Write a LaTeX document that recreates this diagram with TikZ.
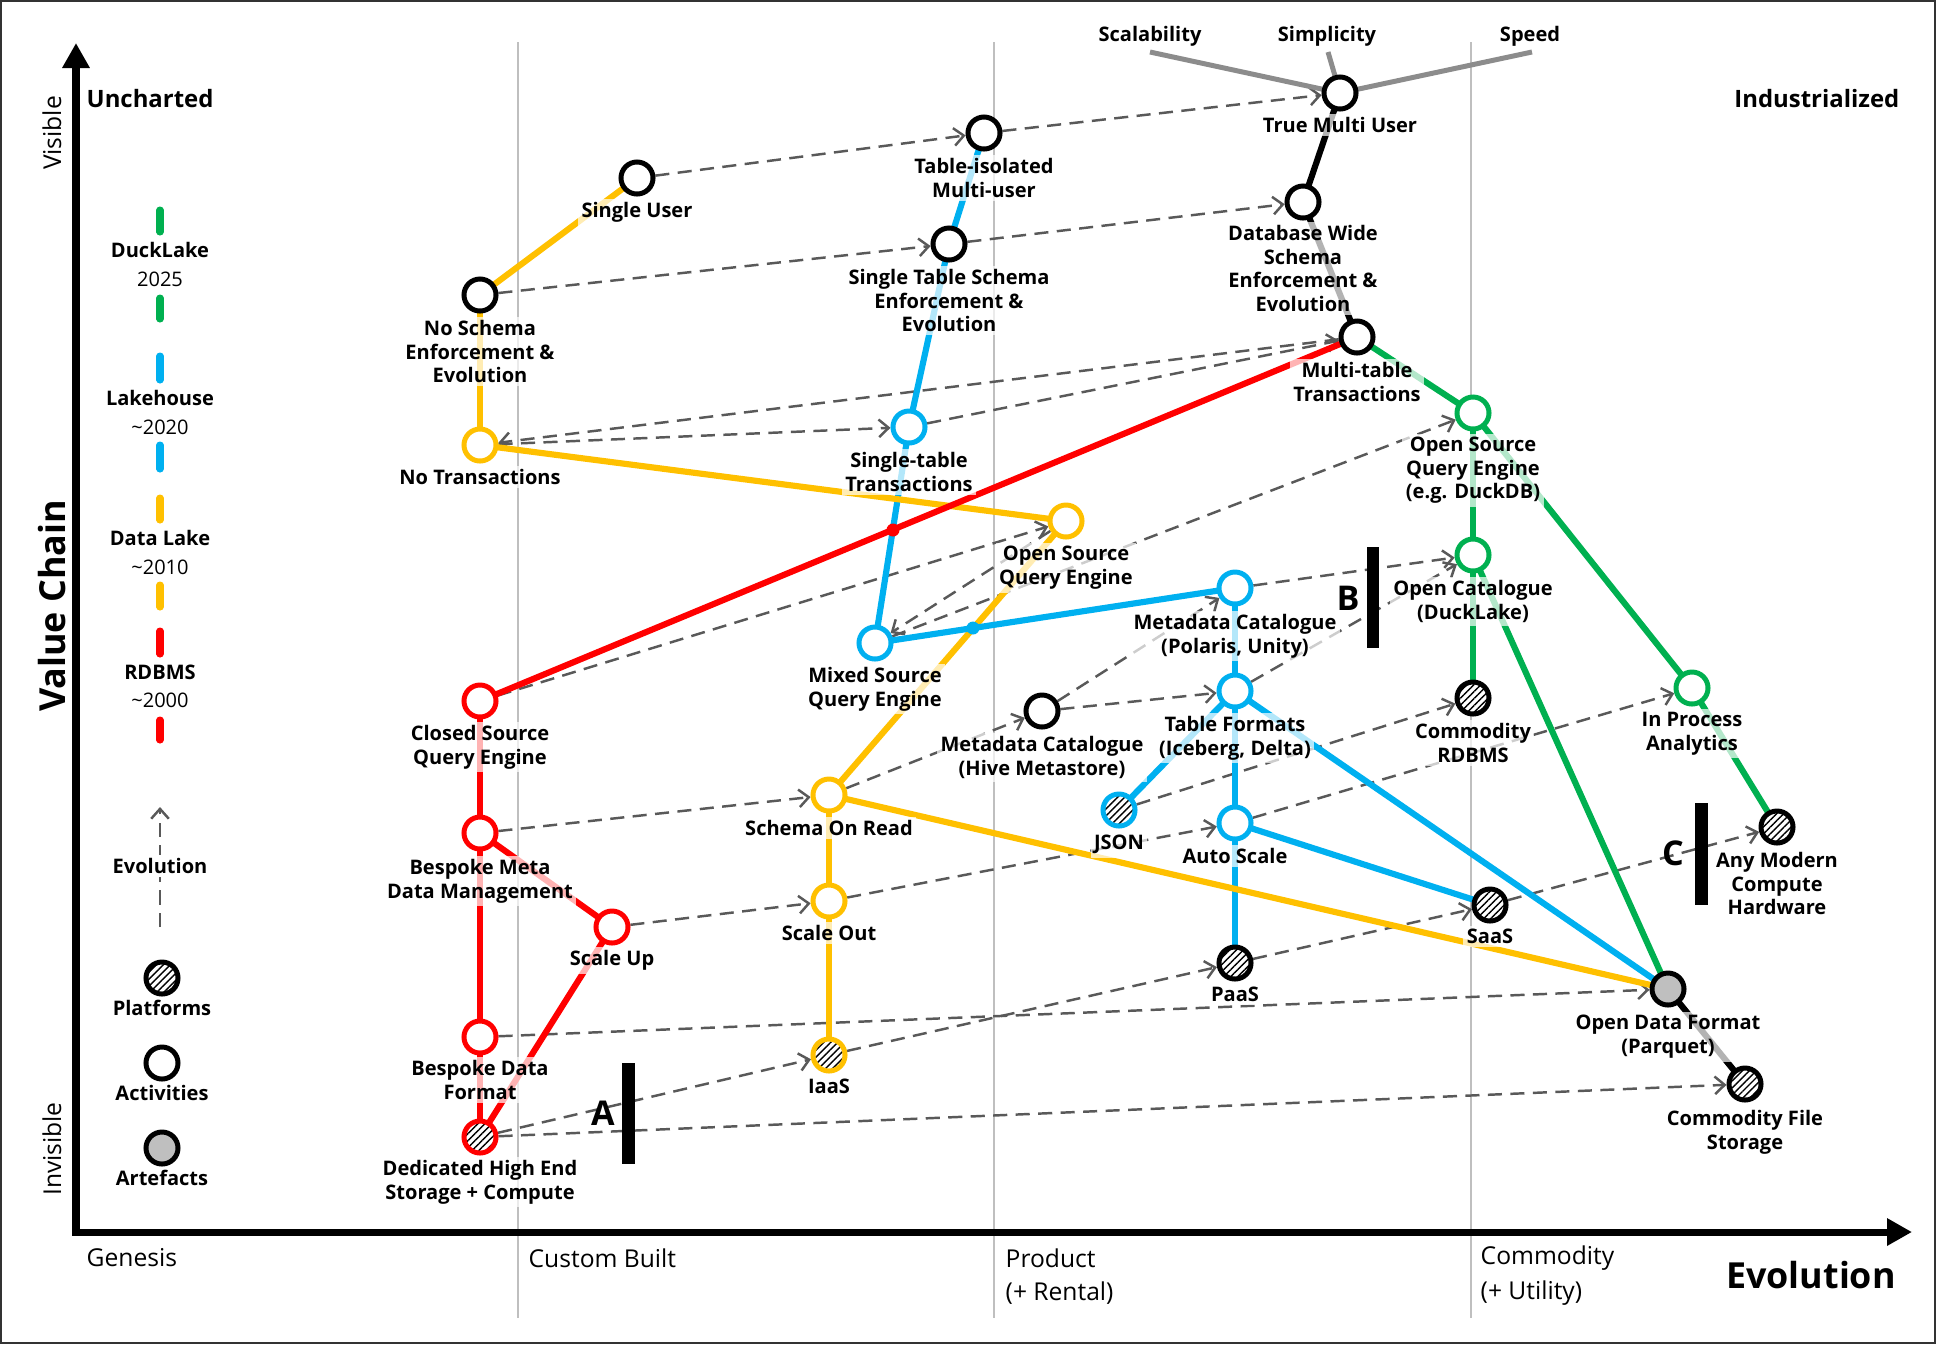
\documentclass[tikz,border=0pt]{standalone}
\usepackage{fontspec}
\setmainfont{Open Sans}
\usetikzlibrary{arrows.meta,patterns.meta}
\definecolor{cRed}{HTML}{FF0000}
\definecolor{cYel}{HTML}{FFC000}
\definecolor{cBlu}{HTML}{00B0F0}
\definecolor{cGrn}{HTML}{00B050}
\definecolor{cDash}{HTML}{595959}
\definecolor{cGrid}{HTML}{BFBFBF}
\definecolor{cTop}{HTML}{8C8C8C}
\definecolor{cArt}{HTML}{BFBFBF}
\pgfdeclarelayer{grid}\pgfdeclarelayer{dash}\pgfdeclarelayer{lines}\pgfdeclarelayer{front}
\pgfsetlayers{grid,dash,lines,main,front}
\newcommand\lblfont{\fontsize{5.7pt}{6.7pt}\selectfont\bfseries}
\newcommand\lblreg{\fontsize{5.7pt}{6.7pt}\selectfont}
\newcommand\hdfont{\fontsize{6.8pt}{8pt}\selectfont\bfseries}
\newcommand\axfont{\fontsize{7pt}{8pt}\selectfont}
\newcommand\bigfont{\fontsize{10.2pt}{12pt}\selectfont\bfseries}
\newcommand\letfont{\fontsize{9.7pt}{11pt}\selectfont\bfseries}
\begin{document}
\begin{tikzpicture}[x=0.01cm,y=-0.01cm,
 act/.style={circle, draw=#1, line width=1.42pt, fill=white, minimum size=0.32cm, inner sep=0pt},
 plat/.style={circle, draw=#1, line width=1.42pt, minimum size=0.32cm, inner sep=0pt,
   preaction={fill=white}, pattern={Lines[angle=45,distance=1.4pt,line width=0.4pt]}, pattern color=black},
 art/.style={circle, draw=#1, line width=1.42pt, fill=cArt, minimum size=0.32cm, inner sep=0pt},
 ln/.style={draw=#1, line width=1.75pt},
 dsh/.style={draw=cDash, line width=0.7pt, dash pattern=on 4pt off 2.4pt, -{Straight Barb[length=2.8pt,width=5pt]}},
 lbl/.style={font=\lblfont, align=center, anchor=north, yshift=0.03cm, inner sep=1pt, fill=white, fill opacity=0.7, text opacity=1},
 txt/.style={font=\lblfont, align=center, inner sep=1pt},
 axt/.style={font=\axfont, anchor=west, inner sep=0pt},
 leg/.style={line width=2pt, line cap=round, draw=#1},
 grd/.style={draw=cGrid, line width=0.7pt},
 bar/.style={fill=black}
]
\useasboundingbox (0,0) rectangle (1936,1344);
\draw[line width=0.5pt, draw=black!80] (1,1) rectangle (1935,1343);

% grid lines
\begin{pgfonlayer}{grid}
\coordinate (g1t) at (518,42); \coordinate (g1b) at (518,1318);
\coordinate (g2t) at (994,42); \coordinate (g2b) at (994,1318);
\coordinate (g3t) at (1471,42); \coordinate (g3b) at (1471,1318);
\draw[grd] (g1t) -- (g1b);
\draw[grd] (g2t) -- (g2b);
\draw[grd] (g3t) -- (g3b);
\end{pgfonlayer}

% axes
\coordinate (yTop) at (76,43); \coordinate (orig) at (76,1232); \coordinate (xEnd) at (1912,1232);
\draw[line width=2pt, line join=miter, {Triangle[length=0.25cm,width=0.26cm]}-{Triangle[length=0.25cm,width=0.26cm]}] (yTop) -- (orig) -- (xEnd);

\node[font=\hdfont, anchor=west, inner sep=0pt] (unch) at (86,99) {Uncharted};
\node[font=\hdfont, anchor=east, inner sep=0pt] (indu) at (1900,99) {Industrialized};
\node[font=\axfont, rotate=90] (vis) at (52,133) {Visible};
\node[font=\axfont, rotate=90] (invis) at (52,1149) {Invisible};
\node[font=\bigfont, rotate=90] (vchain) at (52,606) {Value Chain};
\node[font=\bigfont] (evo) at (1811,1275) {Evolution};
\node[axt] (gen) at (86,1258) {Genesis};
\node[axt] (cus) at (528,1258) {Custom Built};
\node[axt] (prod) at (1005,1258) {Product};
\node[axt] (rent) at (1005,1293) {(+ Rental)};
\node[axt] (comm) at (1480,1258) {Commodity};
\node[axt] (util) at (1480,1293) {(+ Utility)};

% legend
\draw[leg=cGrn] (160,210) -- (160,232);
\node[txt] (lgDL) at (160,250) {DuckLake};
\node[txt, font=\lblreg] (lgDLy) at (160,279) {2025};
\draw[leg=cGrn] (160,298) -- (160,319);
\draw[leg=cBlu] (160,356) -- (160,380);
\node[txt] (lgLH) at (160,398) {Lakehouse};
\node[txt, font=\lblreg] (lgLHy) at (160,427) {\textasciitilde 2020};
\draw[leg=cBlu] (160,445) -- (160,469);
\draw[leg=cYel] (160,498) -- (160,520);
\node[txt] (lgLK) at (160,538) {Data Lake};
\node[txt, font=\lblreg] (lgLKy) at (160,567) {\textasciitilde 2010};
\draw[leg=cYel] (160,585) -- (160,607);
\draw[leg=cRed] (160,631) -- (160,654);
\node[txt] (lgRD) at (160,672) {RDBMS};
\node[txt, font=\lblreg] (lgRDy) at (160,700) {\textasciitilde 2000};
\draw[leg=cRed] (160,720) -- (160,740);
\coordinate (lgEb) at (160,927); \coordinate (lgEt) at (160,807);
\draw[dsh] (lgEb) -- (lgEt);
\node[txt, fill=white] (lgEv) at (160,866) {Evolution};
\node[plat=black] (lgP) at (162,978) {};
\node[txt] (lgPt) at (162,1008) {Platforms};
\node[act=black] (lgA) at (162,1063) {};
\node[txt] (lgAt) at (162,1093) {Activities};
\node[art=black] (lgR) at (162,1148) {};
\node[txt] (lgRt) at (162,1178) {Artefacts};

% component nodes
\node[act=black] (NoSchema) at (480,295) {};
\node[act=black] (SingleUser) at (637,178) {};
\node[act=black] (TableIso) at (984,133) {};
\node[act=black] (STSchema) at (949,244) {};
\node[act=black] (TrueMulti) at (1340,93) {};
\node[act=black] (DBWide) at (1303,202) {};
\node[act=black] (MultiTable) at (1357,337) {};
\node[act=black] (Hive) at (1042,711) {};
\node[plat=black] (CRDBMS) at (1473,698) {};
\node[plat=black] (AnyMod) at (1777,827) {};
\node[plat=black] (SaaS) at (1490,905) {};
\node[plat=black] (PaaS) at (1235,963) {};
\node[art=black] (ODF) at (1668,989) {};
\node[plat=black] (CFS) at (1745,1084) {};
\node[act=cYel] (NoTrans) at (480,445) {};
\node[act=cYel] (OSQE) at (1066,521) {};
\node[act=cYel] (SoR) at (829,795) {};
\node[act=cYel] (ScaleOut) at (829,901) {};
\node[plat=cYel] (IaaS) at (829,1055) {};
\node[act=cRed] (Closed) at (480,701) {};
\node[act=cRed] (BMeta) at (480,833) {};
\node[act=cRed] (ScaleUp) at (612,927) {};
\node[act=cRed] (BDF) at (480,1037) {};
\node[plat=cRed] (Dedicated) at (480,1137) {};
\node[act=cBlu] (STTrans) at (909,427) {};
\node[act=cBlu] (Mixed) at (875,643) {};
\node[act=cBlu] (Polaris) at (1235,588) {};
\node[act=cBlu] (TF) at (1235,691) {};
\node[plat=cBlu] (JSON) at (1119,810) {};
\node[act=cBlu] (AutoScale) at (1235,823) {};
\node[act=cGrn] (OSQED) at (1473,413) {};
\node[act=cGrn] (OpenCat) at (1473,555) {};
\node[act=cGrn] (InProc) at (1692,688) {};

% top attributes
\coordinate (scalE) at (1150,52);
\coordinate (simpE) at (1328,52);
\coordinate (speedE) at (1532,52);
\node[txt] (scalT) at (1150,36) {Scalability};
\node[txt] (simpT) at (1327,36) {Simplicity};
\node[txt] (speedT) at (1530,36) {Speed};

% solid lines
\begin{pgfonlayer}{lines}
\draw[draw=cTop, line width=1.42pt] (TrueMulti.center) -- (scalE);
\draw[draw=cTop, line width=1.42pt] (TrueMulti.center) -- (simpE);
\draw[draw=cTop, line width=1.42pt] (TrueMulti.center) -- (speedE);
% blue
\draw[ln=cBlu] (TableIso.center) -- (STSchema.center);
\draw[ln=cBlu] (STSchema.center) -- (STTrans.center);
\draw[ln=cBlu] (STTrans.center) -- (Mixed.center);
\draw[ln=cBlu] (Polaris.center) -- (TF.center);
\draw[ln=cBlu] (TF.center) -- (JSON.center);
\draw[ln=cBlu] (TF.center) -- (AutoScale.center);
\draw[ln=cBlu] (TF.center) -- (ODF.center);
\draw[ln=cBlu] (AutoScale.center) -- (PaaS.center);
\draw[ln=cBlu] (AutoScale.center) -- (SaaS.center);
% yellow
\draw[ln=cYel] (SingleUser.center) -- (NoSchema.center);
\draw[ln=cYel] (NoSchema.center) -- (NoTrans.center);
\draw[ln=cYel] (NoTrans.center) -- (OSQE.center);
\draw[ln=cYel] (OSQE.center) -- (SoR.center);
\draw[ln=cYel] (SoR.center) -- (ScaleOut.center);
\draw[ln=cYel] (ScaleOut.center) -- (IaaS.center);
\draw[ln=cYel] (SoR.center) -- (ODF.center);
% blue over yellow
\draw[ln=cBlu] (Mixed.center) -- (Polaris.center);
\coordinate (hopBY) at (973,628);
\fill[cBlu] (hopBY) circle (0.065cm);
% red
\draw[ln=cRed] (Closed.center) -- (MultiTable.center);
\coordinate (hopRB) at (893,530);
\fill[cRed] (hopRB) circle (0.065cm);
\draw[ln=cRed] (Closed.center) -- (BMeta.center);
\draw[ln=cRed] (BMeta.center) -- (BDF.center);
\draw[ln=cRed] (BMeta.center) -- (ScaleUp.center);
\draw[ln=cRed] (ScaleUp.center) -- (Dedicated.center);
\draw[ln=cRed] (BDF.center) -- (Dedicated.center);
% black
\draw[ln=black] (TrueMulti.center) -- (DBWide.center);
\draw[ln=black] (DBWide.center) -- (MultiTable.center);
\draw[ln=black] (ODF.center) -- (CFS.center);
% green
\draw[ln=cGrn] (MultiTable.center) -- (OSQED.center);
\draw[ln=cGrn] (OSQED.center) -- (OpenCat.center);
\draw[ln=cGrn] (OpenCat.center) -- (CRDBMS.center);
\draw[ln=cGrn] (OpenCat.center) -- (ODF.center);
\draw[ln=cGrn] (OSQED.center) -- (InProc.center);
\draw[ln=cGrn] (InProc.center) -- (AnyMod.center);
\end{pgfonlayer}

% evolution arrows
\begin{pgfonlayer}{dash}
\draw[dsh] (SingleUser) -- (TableIso);
\draw[dsh] (TableIso) -- (TrueMulti);
\draw[dsh] (NoSchema) -- (STSchema);
\draw[dsh] (STSchema) -- (DBWide);
\draw[dsh] (NoTrans) -- (STTrans);
\draw[dsh] (STTrans) -- (MultiTable);
\draw[dsh] (MultiTable) -- (NoTrans);
\draw[dsh] (Closed) -- (OSQE);
\draw[dsh] (OSQE) -- (Mixed);
\draw[dsh] (Mixed) -- (OSQED);
\draw[dsh] (BMeta) -- (SoR);
\draw[dsh] (SoR) -- (Hive);
\draw[dsh] (Hive) -- (Polaris);
\draw[dsh] (Hive) -- (TF);
\draw[dsh] (Polaris) -- (OpenCat);
\draw[dsh] (TF) -- (OpenCat);
\draw[dsh] (JSON) -- (CRDBMS);
\draw[dsh] (AutoScale) -- (InProc);
\draw[dsh] (ScaleUp) -- (ScaleOut);
\draw[dsh] (ScaleOut) -- (AutoScale);
\draw[dsh] (IaaS) -- (PaaS);
\draw[dsh] (PaaS) -- (SaaS);
\draw[dsh] (SaaS) -- (AnyMod);
\draw[dsh] (Dedicated) -- (IaaS);
\draw[dsh] (Dedicated) -- (CFS);
\draw[dsh] (BDF) -- (ODF);
\end{pgfonlayer}

% bars
\fill[bar] (622,1063) rectangle (635,1164);
\node[font=\letfont] (lA) at (603,1113) {A};
\fill[bar] (1367,547) rectangle (1379,648);
\node[font=\letfont] (lB) at (1348,598) {B};
\fill[bar] (1695,803) rectangle (1708,905);
\node[font=\letfont] (lC) at (1673,853) {C};

% labels
\begin{pgfonlayer}{front}
\node[lbl] (tNoSchema) at (480,319) {No Schema\\Enforcement \&\\Evolution};
\node[lbl] (tNoTrans) at (480,468) {No Transactions};
\node[lbl] (tSingleUser) at (637,201) {Single User};
\node[lbl] (tTableIso) at (984,157) {Table-isolated\\Multi-user};
\node[lbl] (tSTSchema) at (949,268) {Single Table Schema\\Enforcement \&\\Evolution};
\node[lbl] (tTrueMulti) at (1340,116) {True Multi User};
\node[lbl] (tDBWide) at (1303,224) {Database Wide\\Schema\\Enforcement \&\\Evolution};
\node[lbl] (tMultiTable) at (1357,361) {Multi-table\\Transactions};
\node[lbl] (tSTTrans) at (909,451) {Single-table\\Transactions};
\node[lbl] (tOSQE) at (1066,545) {Open Source\\Query Engine};
\node[lbl] (tMixed) at (875,666) {Mixed Source\\Query Engine};
\node[lbl] (tClosed) at (480,724) {Closed Source\\Query Engine};
\node[lbl] (tBMeta) at (480,858) {Bespoke Meta\\Data Management};
\node[lbl] (tScaleUp) at (612,949) {Scale Up};
\node[lbl] (tSoR) at (829,819) {Schema On Read};
\node[lbl] (tScaleOut) at (829,924) {Scale Out};
\node[lbl] (tIaaS) at (829,1078) {IaaS};
\node[lbl] (tBDF) at (480,1059) {Bespoke Data\\Format};
\node[lbl] (tDedicated) at (480,1159) {Dedicated High End\\Storage + Compute};
\node[lbl] (tHive) at (1042,735) {Metadata Catalogue\\(Hive Metastore)};
\node[lbl] (tPolaris) at (1235,613) {Metadata Catalogue\\(Polaris, Unity)};
\node[lbl] (tTF) at (1235,715) {Table Formats\\(Iceberg, Delta)};
\node[lbl] (tJSON) at (1119,834) {JSON};
\node[lbl] (tAutoScale) at (1235,847) {Auto Scale};
\node[lbl] (tPaaS) at (1235,986) {PaaS};
\node[lbl] (tSaaS) at (1490,928) {SaaS};
\node[lbl] (tOSQED) at (1473,436) {Open Source\\Query Engine\\(e.g. DuckDB)};
\node[lbl] (tOpenCat) at (1473,579) {Open Catalogue\\(DuckLake)};
\node[lbl] (tCRDBMS) at (1473,722) {Commodity\\RDBMS};
\node[lbl] (tInProc) at (1692,711) {In Process\\Analytics};
\node[lbl] (tAnyMod) at (1777,851) {Any Modern\\Compute\\Hardware};
\node[lbl] (tODF) at (1668,1014) {Open Data Format\\(Parquet)};
\node[lbl] (tCFS) at (1745,1109) {Commodity File\\Storage};
\end{pgfonlayer}
\end{tikzpicture}
\end{document}
